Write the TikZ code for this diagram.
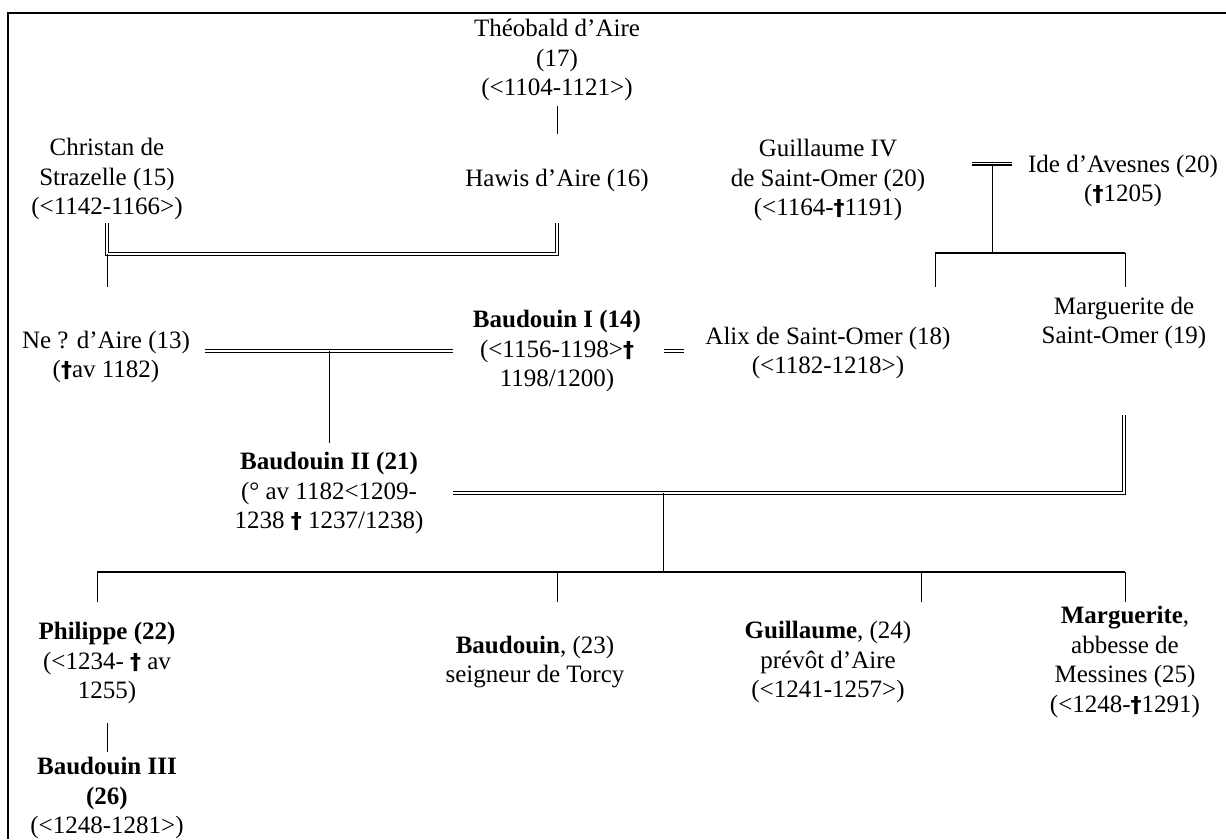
\documentclass[tikz,border=0pt]{standalone}
\usepackage{fontspec}
\setmainfont{Liberation Serif}
\newfontfamily\dagfont{DejaVu Sans}
\newcommand{\dg}{{\dagfont\bfseries\fontsize{22}{29.5}\selectfont †}}
\begin{document}
\begin{tikzpicture}[x=1pt,y=-1pt,
  person/.style={align=center, inner sep=0pt, font=\fontsize{25}{29.5}\selectfont},
  thin/.style={line width=1pt},
  thk/.style={line width=2pt},
  dbl/.style={double, double distance=1.8pt, line width=1.1pt},
  frame/.style={line width=1.6pt}]
\useasboundingbox (0,0) rectangle (1226,839);
% frame
\coordinate (fbl) at (8,839);
\coordinate (ftl) at (8,13);
\coordinate (ftr) at (1226,13);
\draw[frame] (fbl) -- (ftl) -- (ftr);

% persons
\node[person] (theo) at (557,60) {Théobald d'Aire\\(17)\\(<1104-1121>)};
\node[person] (chr) at (107,179) {Christan de\\Strazelle (15)\\(<1142-1166>)};
\node[person] (haw) at (557,180) {Hawis d'Aire (16)};
\node[person] (gui) at (828,180) {Guillaume IV\\de Saint-Omer (20)\\(<1164-\dg1191)};
\node[person] (ide) at (1123,181) {Ide d'Avesnes (20)\\(\dg1205)};
\node[person] (ne) at (106,357) {Ne ? d'Aire (13)\\(\dg av 1182)};
\node[person] (b1) at (557,351) {\textbf{Baudouin I (14)}\\(<1156-1198>\dg\\1198/1200)};
\node[person] (alix) at (828,353) {Alix de Saint-Omer (18)\\(<1182-1218>)};
\node[person] (marg) at (1124,323) {Marguerite de\\Saint-Omer (19)};
\node[person] (b2) at (329,493) {\textbf{Baudouin II (21)}\\(° av 1182<1209-\\1238 \dg\ 1237/1238)};
\node[person] (phil) at (107,663) {\textbf{Philippe (22)}\\(<1234- \dg\ av\\1255)};
\node[person] (bau) at (535,662) {\textbf{Baudouin}, (23)\\seigneur de Torcy};
\node[person] (guil) at (828,662) {\textbf{Guillaume}, (24)\\prévôt d'Aire\\(<1241-1257>)};
\node[person] (marg2) at (1125,662) {\textbf{Marguerite},\\abbesse de\\Messines (25)\\(<1248-\dg1291)};
\node[person] (b3) at (107,798) {\textbf{Baudouin III}\\\textbf{(26)}\\(<1248-1281>)};

% junction coordinates
\coordinate (theoD) at (557,106);
\coordinate (hawU) at (557,134);
\coordinate (chrD) at (107,223);
\coordinate (chrJ) at (107,254);
\coordinate (hawJ) at (557,254);
\coordinate (hawD) at (557,223);
\coordinate (chrK) at (107,287);
\coordinate (guiM) at (972,163.5);
\coordinate (ideM) at (1012,163.5);
\coordinate (gimid) at (992,163.5);
\coordinate (gibar) at (992,253);
\coordinate (alixB) at (935,253);
\coordinate (margB) at (1125,253);
\coordinate (alixU) at (935,287);
\coordinate (margU) at (1125,287);
\coordinate (neM) at (205,351);
\coordinate (b1M) at (453,351);
\coordinate (neb1) at (329,351);
\coordinate (b2U) at (329,443);
\coordinate (b1A) at (664,351);
\coordinate (alixA) at (684,351);
\coordinate (b2M) at (453,493);
\coordinate (margC) at (1124,493);
\coordinate (margD) at (1124,415);
\coordinate (b2mid) at (663,493);
\coordinate (kidbar) at (663,572);
\coordinate (k1) at (97,572);
\coordinate (k2) at (557,572);
\coordinate (k3) at (921,572);
\coordinate (k4) at (1125,572);
\coordinate (k1d) at (97,602);
\coordinate (k2d) at (557,602);
\coordinate (k3d) at (921,602);
\coordinate (k4d) at (1125,602);
\coordinate (philD) at (107,723);
\coordinate (b3U) at (107,752);

% connectors
\draw[thin] (theoD) -- (hawU);
\draw[dbl] (chrD) -- (chrJ) -- (hawJ) -- (hawD);
\draw[thin] (chrJ) -- (chrK);
\draw[dbl] (guiM) -- (ideM);
\draw[thin] (gimid) -- (gibar);
\draw[thk] (alixB) -- (margB);
\draw[thin] (alixB) -- (alixU);
\draw[thin] (margB) -- (margU);
\draw[dbl] (neM) -- (b1M);
\draw[thin] (neb1) -- (b2U);
\draw[dbl] (b1A) -- (alixA);
\draw[dbl] (b2M) -- (margC) -- (margD);
\draw[thin] (b2mid) -- (kidbar);
\draw[thk] (k1) -- (k4);
\draw[thin] (k1) -- (k1d);
\draw[thin] (k2) -- (k2d);
\draw[thin] (k3) -- (k3d);
\draw[thin] (k4) -- (k4d);
\draw[thin] (philD) -- (b3U);
\end{tikzpicture}
\end{document}
